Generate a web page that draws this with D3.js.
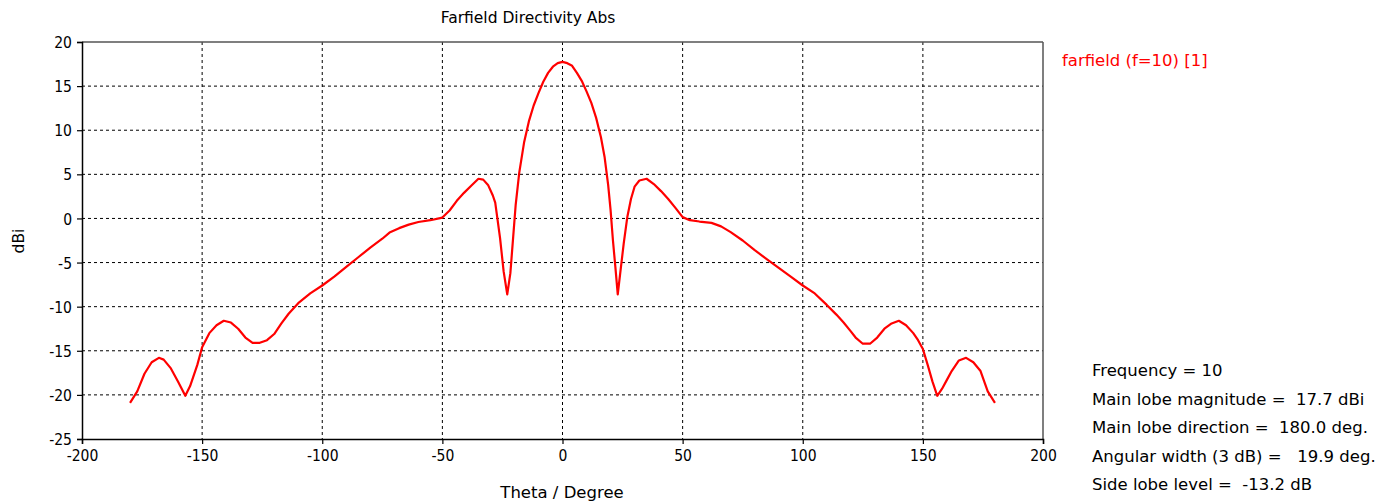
<!DOCTYPE html>
<html>
<head>
<meta charset="utf-8">
<script src="https://cdn.jsdelivr.net/npm/d3@7"></script>
<style>
  html, body { margin: 0; padding: 0; background: #fff; }
  svg { display: block; font-family: "DejaVu Sans", "Liberation Sans", sans-serif; }
  text { white-space: pre; }
</style>
</head>
<body>
<svg id="chart" width="1393" height="502"></svg>
<script>
const theta = [
  -180, -177, -174, -171, -168, -166, -163, -160, -157, -155, -152, -150, -147, -144, -141, -138, -135, -132, -129, -126,
  -123, -120, -117, -114, -110, -105, -100, -95, -90, -85, -80, -75, -72, -68, -64, -60, -55, -50, -47, -44,
  -41, -38, -35, -33, -31, -29, -28, -26, -24.5, -23, -21.7, -20.5, -19.5, -18, -16, -14, -12, -10, -8, -6,
  -4, -2, 0, 2, 4, 6, 8, 10, 12, 14, 16, 17.5, 19, 20, 21, 22, 23, 24.2, 25.5, 27,
  28.5, 30, 32, 35, 38, 41, 44, 47, 50, 53, 57, 62, 66, 70, 75, 80, 85, 90, 95, 100,
  105, 110, 114, 117, 120, 122, 125, 128, 131, 134, 137, 140, 143, 146, 148, 150, 152, 154, 156, 158,
  160, 162, 165, 168, 171, 174, 177, 180
];
const dBi = [
  -20.9, -19.6, -17.6, -16.3, -15.8, -16.0, -17.0, -18.5, -20.1, -19.0, -16.6, -14.6, -13.0, -12.1, -11.6, -11.8, -12.5, -13.5, -14.1, -14.1,
  -13.8, -13.1, -11.9, -10.8, -9.6, -8.5, -7.6, -6.6, -5.5, -4.4, -3.3, -2.3, -1.6, -1.1, -0.7, -0.4, -0.2, 0.1, 0.9, 2.0,
  2.9, 3.7, 4.5, 4.4, 3.8, 2.6, 1.8, -2.2, -6.0, -8.6, -6.2, -2.0, 1.5, 5.2, 8.6, 11.0, 12.8, 14.2, 15.5, 16.5,
  17.2, 17.6, 17.75, 17.6, 17.3, 16.5, 15.6, 14.4, 13.1, 11.4, 9.2, 7.0, 3.8, 1.0, -2.5, -5.5, -8.6, -5.8, -2.8, 0.2,
  2.2, 3.6, 4.3, 4.5, 3.9, 3.1, 2.2, 1.2, 0.15, -0.2, -0.35, -0.5, -0.9, -1.55, -2.5, -3.6, -4.6, -5.6, -6.6, -7.6,
  -8.5, -9.8, -10.9, -11.8, -12.8, -13.5, -14.2, -14.2, -13.5, -12.5, -11.9, -11.6, -12.1, -13.0, -13.8, -14.8, -16.6, -18.5, -20.1, -19.3,
  -18.3, -17.3, -16.1, -15.8, -16.3, -17.3, -19.6, -20.9
];
const xTicks = [-200, -150, -100, -50, 0, 50, 100, 150, 200];
const yTicks = [-25, -20, -15, -10, -5, 0, 5, 10, 15, 20];
const titleText = "Farfield Directivity Abs";
const xLabel = "Theta / Degree";
const yLabel = "dBi";
const legendText = "farfield (f=10) [1]";
const infoLines = [
  "Frequency = 10",
  "Main lobe magnitude =  17.7 dBi",
  "Main lobe direction =  180.0 deg.",
  "Angular width (3 dB) =   19.9 deg.",
  "Side lobe level =  -13.2 dB"
];

const svg = d3.select("#chart");
const m = { left: 82, top: 42, right: 1043, bottom: 439 };
const x = d3.scaleLinear().domain([-200, 200]).range([m.left, m.right]);
const y = d3.scaleLinear().domain([-25, 20]).range([m.bottom, m.top]);

// grid
const grid = svg.append("g");
grid.selectAll("line.vx").data(xTicks.filter(t => t > -200 && t < 200)).enter().append("line")
  .attr("x1", d => x(d)).attr("x2", d => x(d)).attr("y1", m.top).attr("y2", m.bottom)
  .attr("stroke", "#000").attr("stroke-width", 1).attr("stroke-dasharray", "3,3");
grid.selectAll("line.hy").data(yTicks.filter(t => t > -25 && t < 20)).enter().append("line")
  .attr("x1", m.left).attr("x2", m.right).attr("y1", d => y(d)).attr("y2", d => y(d))
  .attr("stroke", "#000").attr("stroke-width", 1).attr("stroke-dasharray", "3,3");

// frame top/right
svg.append("line").attr("x1", m.left).attr("x2", m.right).attr("y1", m.top).attr("y2", m.top)
  .attr("stroke", "#555").attr("stroke-width", 1.5);
svg.append("line").attr("x1", m.right).attr("x2", m.right).attr("y1", m.top).attr("y2", m.bottom)
  .attr("stroke", "#555").attr("stroke-width", 1.5);

// axes
const fmt = d => String(d);
const xAxis = d3.axisBottom(x).tickValues(xTicks).tickSize(5).tickPadding(6).tickFormat(fmt);
const yAxis = d3.axisLeft(y).tickValues(yTicks).tickSize(5).tickPadding(5).tickFormat(fmt);
const gx = svg.append("g").attr("transform", `translate(0,${m.bottom})`).call(xAxis);
const gy = svg.append("g").attr("transform", `translate(${m.left},0)`).call(yAxis);
[gx, gy].forEach(g => {
  g.select(".domain").attr("stroke", "#000").attr("stroke-width", 1.5);
  g.selectAll(".tick line").attr("stroke", "#000").attr("stroke-width", 1.2);
  g.selectAll(".tick text").attr("fill", "#000").style("font-size", "15.5px")
    .style("font-family", "'DejaVu Sans Condensed', 'DejaVu Sans', sans-serif");
});
gy.selectAll(".tick text").attr("dy", "0.36em");

// curve
const pts = theta.map((t, i) => [t, dBi[i]]);
const line = d3.line().x(d => x(d[0])).y(d => y(d[1])).curve(d3.curveLinear);
svg.append("path").datum(pts).attr("d", line)
  .attr("fill", "none").attr("stroke", "#ff0000").attr("stroke-width", 2.2)
  .attr("stroke-linejoin", "round");

const tf = "'DejaVu Sans', sans-serif";
svg.append("text").attr("x", 528).attr("y", 23).attr("text-anchor", "middle")
  .style("font-size", "15.5px").style("font-family", tf).text(titleText);
svg.append("text").attr("x", 562).attr("y", 498).attr("text-anchor", "middle")
  .style("font-size", "16.5px").style("font-family", tf).text(xLabel);
svg.append("text").attr("transform", "translate(24,241) rotate(-90)").attr("text-anchor", "middle")
  .style("font-size", "15.5px").style("font-family", tf).text(yLabel);
svg.append("text").attr("x", 1062).attr("y", 66).attr("fill", "#ff0000")
  .style("font-size", "16.5px").style("font-family", tf).text(legendText);
svg.selectAll("text.info").data(infoLines).enter().append("text").attr("class", "info")
  .attr("x", 1092).attr("y", (d, i) => 376 + i * 28.5)
  .style("font-size", "16.5px").style("font-family", tf).text(d => d);
</script>
</body>
</html>
